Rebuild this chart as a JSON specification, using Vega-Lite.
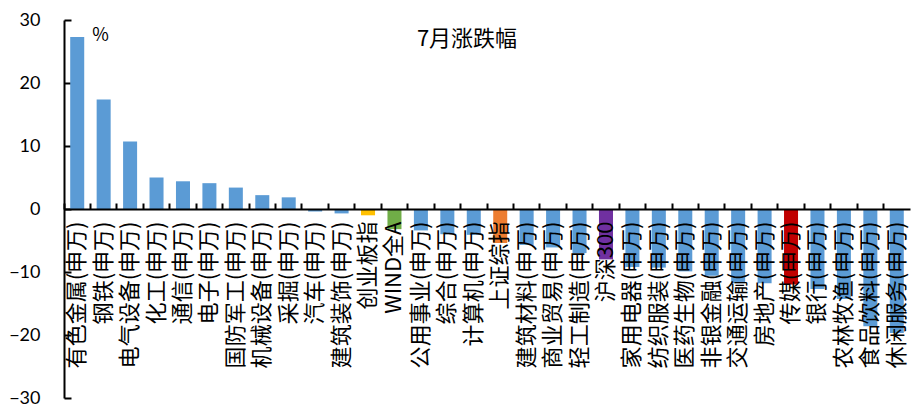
{
  "$schema": "https://vega.github.io/schema/vega-lite/v6.json",
  "width": 846,
  "height": 378,
  "autosize": {"type": "none"},
  "padding": {"left": 64, "top": 20, "right": 1, "bottom": 8},
  "background": "white",
  "title": {
    "text": "7月涨跌幅",
    "font": "Noto Sans CJK SC",
    "fontSize": 22,
    "fontWeight": "normal",
    "color": "black",
    "anchor": "middle",
    "frame": "group",
    "offset": 0,
    "dy": 40,
    "dx": -20
  },
  "data": {
    "values": [
      {"name": "有色金属(申万)", "group": "行业", "value": 27.3},
      {"name": "钢铁(申万)", "group": "行业", "value": 17.4},
      {"name": "电气设备(申万)", "group": "行业", "value": 10.7},
      {"name": "化工(申万)", "group": "行业", "value": 5.0},
      {"name": "通信(申万)", "group": "行业", "value": 4.4},
      {"name": "电子(申万)", "group": "行业", "value": 4.1},
      {"name": "国防军工(申万)", "group": "行业", "value": 3.4},
      {"name": "机械设备(申万)", "group": "行业", "value": 2.2},
      {"name": "采掘(申万)", "group": "行业", "value": 1.85},
      {"name": "汽车(申万)", "group": "行业", "value": -0.4},
      {"name": "建筑装饰(申万)", "group": "行业", "value": -0.7},
      {"name": "创业板指", "group": "创业板指", "value": -1.0},
      {"name": "WIND全A", "group": "WIND全A", "value": -3.2},
      {"name": "公用事业(申万)", "group": "行业", "value": -3.4},
      {"name": "综合(申万)", "group": "行业", "value": -4.0},
      {"name": "计算机(申万)", "group": "行业", "value": -4.1},
      {"name": "上证综指", "group": "上证综指", "value": -5.4},
      {"name": "建筑材料(申万)", "group": "行业", "value": -5.7},
      {"name": "商业贸易(申万)", "group": "行业", "value": -6.1},
      {"name": "轻工制造(申万)", "group": "行业", "value": -7.0},
      {"name": "沪深300", "group": "沪深300", "value": -8.0},
      {"name": "家用电器(申万)", "group": "行业", "value": -9.2},
      {"name": "纺织服装(申万)", "group": "行业", "value": -9.3},
      {"name": "医药生物(申万)", "group": "行业", "value": -9.9},
      {"name": "非银金融(申万)", "group": "行业", "value": -10.6},
      {"name": "交通运输(申万)", "group": "行业", "value": -11.8},
      {"name": "房地产(申万)", "group": "行业", "value": -11.8},
      {"name": "传媒(申万)", "group": "传媒", "value": -12.0},
      {"name": "银行(申万)", "group": "行业", "value": -12.7},
      {"name": "农林牧渔(申万)", "group": "行业", "value": -14.3},
      {"name": "食品饮料(申万)", "group": "行业", "value": -18.6},
      {"name": "休闲服务(申万)", "group": "行业", "value": -19.7}
    ]
  },
  "layer": [
    {
      "mark": {"type": "bar", "width": {"band": 0.53}},
      "encoding": {
        "x": {
          "field": "name",
          "type": "nominal",
          "sort": null,
          "scale": {"paddingInner": 0, "paddingOuter": 0},
          "axis": {
            "orient": "bottom",
            "offset": -189,
            "zindex": 1,
            "title": null,
            "ticks": false,
            "labelAngle": -90,
            "labelFont": "Noto Sans CJK SC",
            "labelFontSize": 22,
            "labelColor": "black",
            "labelPadding": 12,
            "labelOverlap": false,
            "labelLimit": 0,
            "labelBound": false,
            "domainColor": "black",
            "domainWidth": 2
          }
        },
        "y": {
          "field": "value",
          "type": "quantitative",
          "scale": {"domain": [-30, 30], "nice": false},
          "axis": {
            "values": [-30, -20, -10, 0, 10, 20, 30],
            "grid": false,
            "labelFont": "Lato",
            "labelFontSize": 18,
            "labelColor": "black",
            "labelPadding": 31,
            "domainColor": "black",
            "domainWidth": 2,
            "tickColor": "black",
            "tickWidth": 2,
            "tickSize": -7,
            "title": "%",
            "titleAngle": 0,
            "titleX": 36,
            "titleY": 15,
            "titleAlign": "center",
            "titleBaseline": "middle",
            "titleFont": "Noto Sans CJK SC",
            "titleFontSize": 18,
            "titleFontWeight": "normal",
            "titleColor": "black"
          }
        },
        "color": {
          "field": "group",
          "type": "nominal",
          "scale": {
            "domain": ["行业", "创业板指", "WIND全A", "上证综指", "沪深300", "传媒"],
            "range": ["#5B9BD5", "#FFC000", "#70AD47", "#ED7D31", "#7030A0", "#C00000"]
          },
          "legend": null
        }
      }
    },
    {
      "mark": {"type": "bar", "opacity": 0},
      "encoding": {
        "x": {
          "field": "name",
          "type": "nominal",
          "sort": null,
          "axis": {
            "orient": "bottom",
            "offset": -189,
            "zindex": 1,
            "title": null,
            "labels": false,
            "domain": false,
            "ticks": true,
            "tickSize": -6,
            "tickWidth": 2,
            "tickColor": "black",
            "bandPosition": 0
          }
        },
        "y": {"field": "value", "type": "quantitative"}
      }
    }
  ],
  "resolve": {"axis": {"x": "independent"}},
  "config": {"view": {"stroke": null}, "axis": {"grid": false}}
}
